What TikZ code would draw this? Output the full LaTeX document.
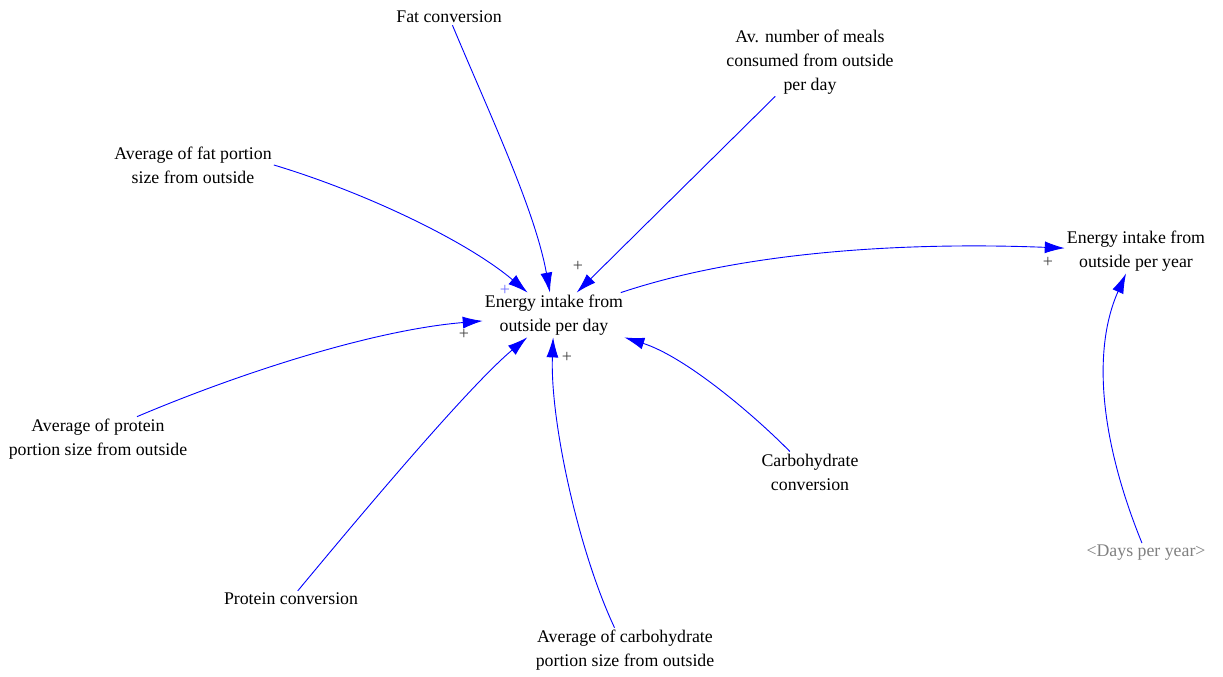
\documentclass[tikz,border=0pt]{standalone}
\usepackage{fontspec}
\setmainfont{Liberation Serif}
\usetikzlibrary{arrows.meta}
\definecolor{linkblue}{RGB}{0,0,255}
\definecolor{signgray}{RGB}{64,64,64}
\definecolor{signblue}{RGB}{110,110,255}
\definecolor{shadowgray}{RGB}{128,128,128}

\begin{document}
\begin{tikzpicture}[x=1pt,y=-1pt,
  var/.style={align=center,inner xsep=2pt,inner ysep=2pt,font=\fontsize{17.8}{24}\selectfont},
  link/.style={draw=linkblue,line width=0.9pt,-{Latex[length=20pt,width=12pt]}},
  pol/.style={text=signgray,inner sep=0pt,font=\fontsize{18}{18}\selectfont}]
\useasboundingbox (0,0) rectangle (1223,677);
\node[var] (day) at (554,315) {Energy intake from\\outside per day};
\node[var] (year) at (1136,251) {Energy intake from\\outside per year};
\node[var] (fatc) at (449,17) {Fat conversion};
\node[var] (meals) at (810,62) {Av. number of meals\\consumed from outside\\per day};
\node[var] (avgfat) at (193,165) {Average of fat portion\\size from outside};
\node[var] (avgprot) at (98,439) {Average of protein\\portion size from outside};
\node[var] (protconv) at (291,599) {Protein conversion};
\node[var] (avgcarb) at (625,650) {Average of carbohydrate\\portion size from outside};
\node[var] (carbconv) at (810,472) {Carbohydrate\\conversion};
\node[var,text=shadowgray] (days) at (1146,553) {<Days per year>};
\draw[link] (fatc) .. controls (490,115) and (535,210) .. (day);
\draw[link] (meals) -- (day);
\draw[link] (avgfat.east) .. controls (367,193) and (468,242) .. (day);
\draw[link] ([xshift=39pt]avgprot.north) .. controls (240,373) and (373,330) .. (day);
\draw[link] (protconv) .. controls (359,517) and (468,387) .. (day);
\draw[link] (avgcarb) .. controls (578,550) and (550,420) .. (day);
\draw[link] (carbconv) .. controls (755,416) and (686,357) .. (day);
\draw[link] (day) .. controls (760,246) and (938,243) .. (year);
\draw[link] (days) .. controls (1100,440) and (1092,350) .. (year);
\node[pol,text=signblue] (pfat) at (505,290) {+};
\node[pol] (pmeals) at (578,266) {+};
\node[pol] (pprot) at (464,334) {+};
\node[pol] (pcarb) at (567,357) {+};
\node[pol] (pday) at (1048,262) {+};
\end{tikzpicture}
\end{document}
